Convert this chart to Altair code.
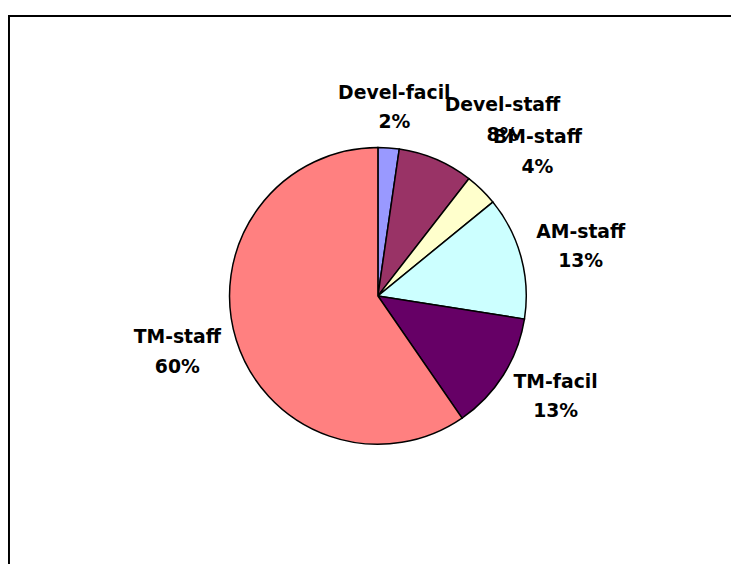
import altair as alt
import pandas as pd

categories = ["Devel-facil", "Devel-staff", "BM-staff", "AM-staff", "TM-facil", "TM-staff"]
shares = [2.3, 8.2, 3.6, 13.4, 12.9, 59.6]
colors = ["#9999FF", "#993366", "#FFFFCC", "#CCFFFF", "#660066", "#FF8080"]

W, H = 714, 542
PAD_L, PAD_T = 17, 17

df = pd.DataFrame({
    "category": categories,
    "share": shares,
    "order": list(range(len(categories))),
})

base = alt.Chart(df)
theta = alt.Theta("share:Q", stack=True)
order = alt.Order("order:Q")

pie = base.mark_arc(outerRadius=150, stroke="black", strokeWidth=1.5).encode(
    theta=theta,
    order=order,
    color=alt.Color("category:N", scale=alt.Scale(domain=categories, range=colors), legend=None),
)

# label placement: box just outside the pie, as the spreadsheet does
lab = base.transform_window(
    cum="sum(share)", sort=[alt.SortField("order")], frame=[None, 0]
).transform_calculate(
    pct="round(datum.share) + '%'",
    mid="(datum.cum - datum.share / 2) / 100 * 2 * PI",
).transform_calculate(
    lx="(166 + 5.8 * length(datum.category)) * sin(datum.mid)",
    ly="(166 + 25) * cos(datum.mid)",
)

xenc = alt.X("lx:Q", scale=alt.Scale(domain=[-W / 2, W / 2], nice=False, zero=False), axis=None)
yenc = alt.Y("ly:Q", scale=alt.Scale(domain=[-H / 2, H / 2], nice=False, zero=False), axis=None)

txt = dict(font="DejaVu Sans", fontWeight="bold", fontSize=19, color="black")

# labels the spreadsheet pushed aside to make room for their neighbours
nudged = {"Devel-staff": (36, -2), "BM-staff": (13, -9)}
plain = "indexof(" + str(list(nudged)).replace("'", '"') + ", datum.category) < 0"


def labels(field, dy):
    layers = [
        lab.mark_text(dy=dy, **txt).encode(
            x=xenc, y=yenc,
            text=alt.condition(plain, alt.Text(field + ":N"), alt.value("")),
        )
    ]
    for cat, (ddx, ddy) in nudged.items():
        layers.append(
            lab.mark_text(dy=dy + ddy, dx=ddx, **txt).encode(
                x=xenc, y=yenc,
                text=alt.condition(
                    "datum.category === '" + cat + "'", alt.Text(field + ":N"), alt.value("")
                ),
            )
        )
    return layers


one = alt.Chart(pd.DataFrame({"k": [0]}))
frame_top = one.mark_rule(color="black", strokeWidth=2).encode(
    x=alt.value(-PAD_L), x2=alt.value(W), y=alt.value(-12)
)
frame_left = one.mark_rule(color="black", strokeWidth=2).encode(
    x=alt.value(-PAD_L + 1), y=alt.value(-13), y2=alt.value(H)
)

chart = alt.layer(
    pie, *labels("category", -15), *labels("pct", 15), frame_top, frame_left
).resolve_scale(x="shared", y="shared").properties(
    width=W,
    height=H,
    padding={"left": PAD_L, "top": PAD_T, "right": 0, "bottom": 0},
    autosize="none",
    background="white",
).configure_view(strokeWidth=0)

chart.save("out.html", embed_options={"renderer": "svg", "actions": False})
